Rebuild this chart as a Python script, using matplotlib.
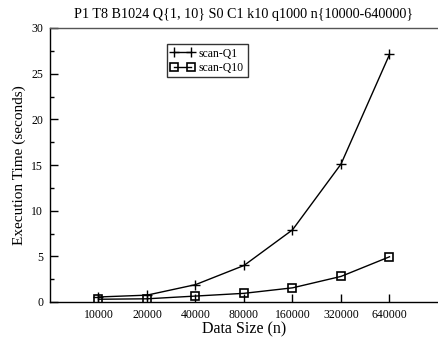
import matplotlib
matplotlib.use("Agg")
import matplotlib.pyplot as plt
import numpy as np

sizes = ["10000", "20000", "40000", "80000", "160000", "320000", "640000"]
scan_q1 = [0.55, 0.75, 1.9, 4.0, 7.9, 15.1, 27.1]
scan_q10 = [0.3, 0.35, 0.65, 0.95, 1.55, 2.8, 4.95]

plt.rcParams['font.family'] = ['Liberation Serif', 'DejaVu Serif']

fig = plt.figure(figsize=(4.39, 3.38), dpi=100)
ax = fig.add_axes([50/439, 1-302/338, 388/439, 274/338])
x = np.arange(len(sizes))
ax.plot(x, scan_q1, color='black', lw=1, marker='+', ms=7.5, mew=1, label='scan-Q1')
ax.plot(x, scan_q10, color='black', lw=1, marker='s', ms=6, mew=1.2,
        mfc='none', label='scan-Q10')
ax.set_xlim(-1, 7)
ax.set_ylim(0, 30)
ax.set_xticks(x)
ax.set_xticklabels(sizes)
ax.set_yticks([0, 5, 10, 15, 20, 25, 30])
ax.set_yticks([2.5, 7.5, 12.5, 17.5, 22.5, 27.5], minor=True)
ax.tick_params(axis='both', which='major', direction='in', length=6, labelsize=8.5, width=1)
ax.tick_params(axis='y', which='minor', direction='in', length=3, width=1)
ax.tick_params(axis='x', pad=5)
ax.tick_params(axis='y', pad=5)
for s in ax.spines.values():
    s.set_linewidth(1)
ax.spines['right'].set_visible(False)
ax.spines['top'].set_color('#555555')
ax.set_xlabel('Data Size (n)', fontsize=11.5, labelpad=0)
ax.set_ylabel('Execution Time (seconds)', fontsize=11, labelpad=4)
ax.set_title('P1 T8 B1024 Q{1, 10} S0 C1 k10 q1000 n{10000-640000}', fontsize=10.2, pad=7)
leg = ax.legend(loc='upper left', bbox_to_anchor=(117/388, 1-16/274), fontsize=8.5,
                frameon=True, fancybox=False, edgecolor='black', handlelength=2.0,
                numpoints=2, borderpad=0.3, labelspacing=0.2, handletextpad=0.4,
                borderaxespad=0)
leg.get_frame().set_linewidth(1)
fig.savefig('out.png', dpi=100)
